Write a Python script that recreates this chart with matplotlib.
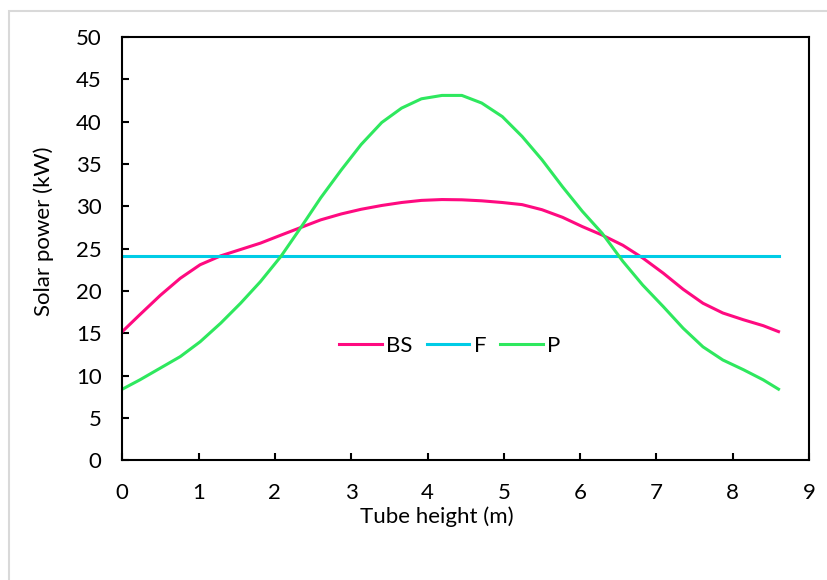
import matplotlib.pyplot as plt
from matplotlib.patches import Rectangle

plt.rcParams['font.family'] = ['Lato', 'DejaVu Sans']

# Tube height (m) and solar power (kW)
bs_x = [0, 0.23, 0.50, 0.76, 1.02, 1.29, 1.55, 1.81, 2.08, 2.34, 2.60, 2.87, 3.13, 3.40,
        3.66, 3.92, 4.19, 4.45, 4.71, 4.98, 5.24, 5.50, 5.77, 6.03, 6.29, 6.56, 6.82,
        7.09, 7.35, 7.61, 7.87, 8.14, 8.40, 8.60]
bs_y = [15.2, 17.2, 19.5, 21.5, 23.1, 24.15, 24.9, 25.65, 26.6, 27.5, 28.4, 29.1, 29.65, 30.1,
        30.45, 30.7, 30.8, 30.77, 30.65, 30.45, 30.2, 29.6, 28.7, 27.6, 26.6, 25.4, 23.9,
        22.1, 20.2, 18.55, 17.4, 16.6, 15.9, 15.2]

f_x = [0, 8.6]
f_y = [24.1, 24.1]

p_x = [0, 0.23, 0.50, 0.76, 1.02, 1.29, 1.55, 1.81, 2.08, 2.34, 2.60, 2.87, 3.13, 3.40,
       3.66, 3.92, 4.19, 4.45, 4.71, 4.98, 5.24, 5.50, 5.77, 6.03, 6.29, 6.56, 6.82,
       7.09, 7.35, 7.61, 7.87, 8.14, 8.40, 8.60]
p_y = [8.4, 9.5, 10.9, 12.25, 14.0, 16.2, 18.55, 21.1, 24.1, 27.5, 31.0, 34.3, 37.3, 39.9,
       41.6, 42.7, 43.1, 43.1, 42.2, 40.6, 38.25, 35.5, 32.3, 29.4, 26.8, 23.5, 20.7,
       18.15, 15.6, 13.4, 11.85, 10.7, 9.5, 8.4]

fig = plt.figure(figsize=(8.28, 5.8), dpi=100)
fig.patches.append(Rectangle((9 / 828, -0.1), 1.2, 1 - 11 / 580 + 0.1, transform=fig.transFigure,
                             fill=False, edgecolor='#d9d9d9', linewidth=1.5))
ax = fig.add_axes([0.1477, 0.2064, 0.8294, 0.7298])

ax.plot(bs_x, bs_y, color='#ff0a80', linewidth=2.2, label='BS')
ax.plot(f_x, f_y, color='#00cce6', linewidth=2.2, label='F')
ax.plot(p_x, p_y, color='#2ee85e', linewidth=2.2, label='P')

ax.set_xlim(0, 9)
ax.set_ylim(0, 50)
ax.set_xticks(range(0, 10))
ax.set_yticks(range(0, 51, 5))
ax.tick_params(direction='in', length=5, width=1.5, labelsize=16, colors='black')
ax.tick_params(axis='x', pad=16)
ax.tick_params(axis='y', pad=15)
for s in ax.spines.values():
    s.set_linewidth(1.5)

ax.set_xlabel('Tube height (m)', fontsize=16, va='center')
ax.set_ylabel('Solar power (kW)', fontsize=16, va='center')
ax.xaxis.set_label_coords(0.458, -0.134)
ax.yaxis.set_label_coords(-0.114, 0.542)

ax.legend(loc='center', bbox_to_anchor=(0.477, 0.27), ncol=3, frameon=False, fontsize=16,
          handlelength=1.9, handletextpad=0.2, columnspacing=0.65)

fig.savefig('out.png', dpi=100)
